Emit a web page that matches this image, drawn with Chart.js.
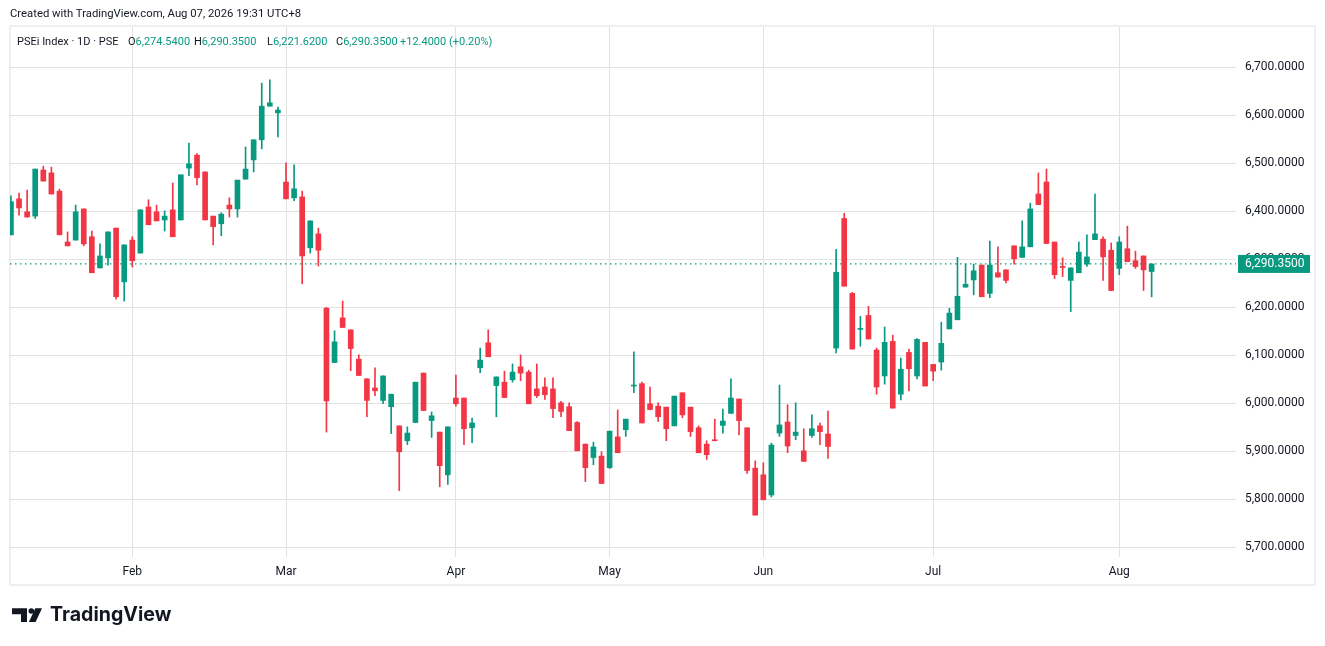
<!DOCTYPE html>
<html>
<head>
<meta charset="utf-8">
<script src="https://cdn.jsdelivr.net/npm/chart.js@4.4.1/dist/chart.umd.min.js"></script>
<style>
html,body{margin:0;padding:0;background:#fff;width:1325px;height:646px;overflow:hidden;font-family:Roboto,"Noto Sans",sans-serif;color:#131722}
#c{position:absolute;left:0;top:0}
.t{position:absolute;white-space:nowrap}
#hdr{left:10px;top:7px;font-size:11.3px}
.lg{top:35px;font-size:11px}
.v{color:#089981}
#logoTxt{left:50px;top:602px;font-family:Inter,Roboto,sans-serif;font-weight:700;font-size:19.6px;letter-spacing:0;color:#131722}
#logo{position:absolute;left:0;top:0}
</style>
</head>
<body>
<canvas id="c" width="1325" height="646"></canvas>
<div class="t" id="hdr">Created with TradingView.com, Aug 07, 2026 19:31 UTC+8</div>
<div class="t lg" style="left:17px">PSEi Index · 1D · PSE</div>
<div class="t lg" style="left:128px">O<span class="v">6,274.5400</span></div>
<div class="t lg" style="left:194px">H<span class="v">6,290.3500</span></div>
<div class="t lg" style="left:267px">L<span class="v">6,221.6200</span></div>
<div class="t lg" style="left:336px">C<span class="v">6,290.3500</span></div>
<div class="t lg v" style="left:400px">+12.4000 (+0.20%)</div>
<svg id="logo" width="60" height="646" viewBox="0 0 60 646">
  <path d="M12 608.3 H27 V622 H21 V614.2 H12 Z" fill="#131722"/>
  <circle cx="31.3" cy="611" r="2.8" fill="#131722"/>
  <path d="M35.3 608.3 H42 L35.6 622 H28.9 Z" fill="#131722"/>
</svg>
<div class="t" id="logoTxt">TradingView</div>
<script>
// ---- data ----
const openPrices = [
6351,6426,6399,6390,6486,6480,6442,6336,6340,6405,6347,6282,6303,6365,6253,
6340,6313,6409,6399,6382,6403,6382,6490,6517,6482,6390,6374,6413,6405,6467,6507,6549,6619,6605,
6461,6428,6430,6324,6353,6198,6085,6178,6153,6092,6051,6032,6006,5993,5953,5922,5960,6063,5964,5940,5851,
6011,6011,5949,6074,6126,6037,6044,6049,6076,6065,6030,6034,6030,6001,5993,5960,5915,5887,5890,
5866,5930,5945,6036,6041,5999,5994,5992,5953,6022,5992,5949,5915,5924,5954,5979,6009,5949,5865,
5851,5809,5938,5961,5933,5901,5933,5953,5936,6115,6385,6229,6154,6183,6111,6057,6129,6019,6106,6057,6127,
6081,6086,6155,6174,6242,6257,6288,6229,6272,6278,6328,6304,6326,6436,6461,6336,6284,6256,6272,6290,6341,6342,6319,
6281,6322,6297,6307,6274.54];
const highPrices = [
6432,6438,6444,6488,6494,6492,6446,6357,6413,6405,6359,6332,6357,6365,6330,
6347,6403,6424,6413,6401,6459,6476,6542,6520,6482,6390,6397,6428,6465,6534,6549,6667,6674,6617,
6501,6497,6442,6380,6365,6200,6151,6213,6153,6101,6051,6074,6057,6019,5953,5951,6044,6063,5982,5940,5951,
6059,6011,5969,6115,6153,6055,6067,6082,6101,6069,6082,6053,6053,6004,6001,5962,5915,5919,5899,
5942,5986,5967,6107,6044,6034,6001,5992,6015,6022,5992,5953,5922,5967,5988,6051,6009,5949,5880,
5876,5917,6038,5997,6001,5947,5976,5959,5984,6321,6396,6231,6181,6202,6115,6159,6142,6094,6113,6135,6127,
6081,6169,6198,6304,6290,6290,6288,6338,6326,6278,6328,6380,6417,6480,6488,6336,6303,6282,6336,6351,6436,6347,6334,
6347,6369,6317,6307,6290.35];
const lowPrices = [
6351,6392,6388,6385,6463,6436,6351,6328,6340,6328,6272,6282,6288,6217,6213,
6284,6313,6372,6380,6359,6347,6382,6474,6455,6382,6330,6349,6388,6388,6467,6482,6530,6619,6555,
6426,6422,6249,6313,6286,5940,6085,6158,6068,6058,5972,6016,5999,5937,5818,5914,5960,5985,5929,5826,5831,
5994,5914,5918,6064,6097,5972,6012,6044,6047,5999,6012,6008,5970,5972,5943,5901,5837,5872,5833,
5864,5897,5931,6022,5959,5986,5962,5922,5953,5970,5931,5897,5883,5922,5938,5979,5934,5854,5767,
5799,5805,5931,5897,5924,5879,5929,5914,5885,6105,6244,6113,6119,6134,6019,6040,5990,6007,6026,6051,6036,
6047,6069,6155,6174,6242,6226,6222,6220,6263,6251,6290,6304,6326,6414,6333,6260,6264,6191,6272,6285,6341,6256,6235,
6268,6295,6281,6235,6221.62];
const closePrices = [
6420,6407,6388,6488,6463,6436,6351,6328,6399,6332,6272,6307,6357,6222,6330,
6297,6403,6372,6380,6390,6347,6476,6499,6470,6382,6368,6394,6405,6465,6488,6549,6619,6626,6611,
6426,6447,6307,6380,6319,6005,6128,6158,6114,6058,6006,6026,6057,6019,5899,5938,6044,5985,5974,5870,5951,
5999,5947,5959,6090,6097,6055,6012,6065,6063,5999,6016,6018,5989,5983,5943,5901,5866,5909,5833,
5942,5897,5967,6038,5959,5987,5972,5947,6015,5976,5941,5897,5893,5922,5963,6011,5964,5860,5767,
5799,5913,5955,5911,5940,5879,5947,5941,5910,6273,6244,6113,6155,6134,6034,6127,5990,6071,6072,6133,6036,
6067,6125,6188,6223,6248,6276,6222,6288,6263,6256,6301,6326,6405,6414,6333,6268,6283,6282,6315,6305,6353,6305,6235,
6336,6295,6285,6277.95,6290.35];
const monthLabels = ['Feb','Mar','Apr','May','Jun','Jul','Aug'];
const monthStarts = [15, 34, 55, 74, 93, 114, 137];   // bar index of first session of each month
const priceTicks = [5700,5800,5900,6000,6100,6200,6300,6400,6500,6600,6700];
const lastPrice = 6290.35;

// ---- chart ----
const GREEN = '#089981', RED = '#F23645';
const colorAt = i => closePrices[i] >= openPrices[i] ? GREEN : RED;
const wickData = lowPrices.map((l, i) => ({x: i, y: [l, highPrices[i]]}));
const bodyData = openPrices.map((o, i) => ({x: i, y: [Math.min(o, closePrices[i]), Math.max(o, closePrices[i])]}));
const fmt = v => v.toLocaleString('en-US', {minimumFractionDigits: 4, maximumFractionDigits: 4});

Chart.defaults.font.family = 'Roboto, "Noto Sans", sans-serif';
Chart.defaults.font.size = 12;
Chart.defaults.color = '#131722';

const framePlugin = {
  id: 'frame',
  beforeDraw(chart) {
    const c = chart.ctx;
    c.save();
    c.strokeStyle = '#efefef';
    c.lineWidth = 2;
    c.strokeRect(10, 26, 1305, 559);
    c.restore();
  },
  beforeDatasetsDraw(chart) {
    const c = chart.ctx, a = chart.chartArea, y = chart.scales.y.getPixelForValue(lastPrice);
    c.save();
    c.strokeStyle = GREEN;
    c.lineWidth = 1.2;
    c.setLineDash([1.5, 3.5]);
    c.beginPath();
    c.moveTo(a.left, y);
    c.lineTo(a.right, y);
    c.stroke();
    c.restore();
  },
  afterDraw(chart) {
    const c = chart.ctx, a = chart.chartArea, y = chart.scales.y.getPixelForValue(lastPrice);
    c.save();
    c.fillStyle = GREEN;
    c.fillRect(a.right + 2, y - 9, 72, 18);
    c.fillStyle = '#ffffff';
    c.font = '12px Roboto, "Noto Sans", sans-serif';
    c.textBaseline = 'middle';
    c.textAlign = 'left';
    c.fillText(fmt(lastPrice), a.right + 9, y + 0.5);
    c.restore();
  }
};

new Chart(document.getElementById('c'), {
  type: 'bar',
  data: {
    datasets: [
      {data: wickData, backgroundColor: ctx => colorAt(ctx.dataIndex), barThickness: 1, grouped: false, order: 2},
      {data: bodyData, backgroundColor: ctx => colorAt(ctx.dataIndex), barThickness: 5, grouped: false, minBarLength: 1, order: 1}
    ]
  },
  options: {
    responsive: false,
    animation: false,
    devicePixelRatio: 1,
    layout: {padding: {left: 10, top: 27, right: 10, bottom: 61}},
    plugins: {legend: {display: false}, tooltip: {enabled: false}},
    scales: {
      x: {
        type: 'linear',
        min: -0.117,
        max: 151.43,
        offset: false,
        grid: {color: '#e2e2e2', drawTicks: false, offset: false},
        border: {display: false},
        afterBuildTicks: s => { s.ticks = monthStarts.map(v => ({value: v})); },
        afterFit: s => { s.height = 28; },
        ticks: {
          autoSkip: false, maxRotation: 0, padding: 8,
          callback: v => monthLabels[monthStarts.indexOf(v)]
        }
      },
      y: {
        position: 'right',
        min: 5679.8,
        max: 6783.96,
        grid: {color: '#e2e2e2', drawTicks: false},
        border: {display: false},
        afterBuildTicks: s => { s.ticks = priceTicks.map(v => ({value: v})); },
        afterFit: s => { s.width = 79; },
        ticks: {padding: 9, callback: v => fmt(v)}
      }
    }
  },
  plugins: [framePlugin]
});
</script>
</body>
</html>
